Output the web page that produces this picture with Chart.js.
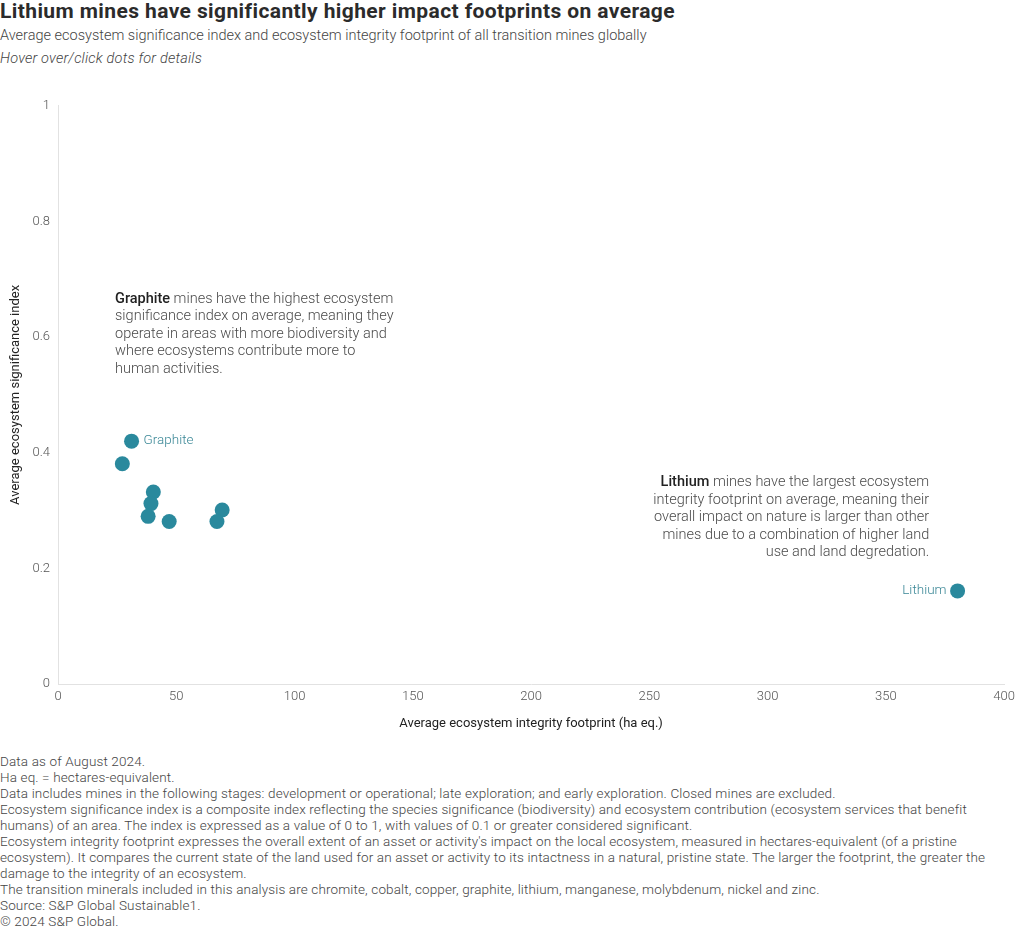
<!DOCTYPE html>
<html>
<head>
<meta charset="utf-8">
<script src="https://cdn.jsdelivr.net/npm/chart.js@4"></script>
<style>
  html, body { margin: 0; padding: 0; background: #fff; }
  body { width: 1020px; height: 929px; position: relative; overflow: hidden; font-family: Roboto, "Noto Sans", sans-serif; color: #333; }
  .t { position: absolute; left: 0; white-space: nowrap; }
  #title { top: -1px; font-size: 21px; font-weight: 700; color: #2b2b2b; line-height: 24px; letter-spacing: 0.4px; }
  #sub { top: 27px; font-size: 14.5px; font-weight: 300; color: #444; line-height: 18px; }
  #hint { top: 50px; font-size: 14.5px; font-weight: 300; font-style: italic; color: #444; line-height: 18px; letter-spacing: 0.2px; }
  #wrap { position: absolute; left: 0; top: 90px; width: 1020px; height: 650px; }
  #notes { position: absolute; left: 0; top: 753px; width: 1020px; white-space: nowrap; font-family: Roboto, sans-serif; font-size: 13.5px; letter-spacing: 0.14px; line-height: 16px; color: #444; font-weight: 300; }
</style>
</head>
<body>
<div id="title" class="t">Lithium mines have significantly higher impact footprints on average</div>
<div id="sub" class="t">Average ecosystem significance index and ecosystem integrity footprint of all transition mines globally</div>
<div id="hint" class="t">Hover over/click dots for details</div>
<div id="wrap"><canvas id="c" width="1020" height="650"></canvas></div>
<div id="notes">
Data as of August 2024.<br>
Ha eq. = hectares-equivalent.<br>
Data includes mines in the following stages: development or operational; late exploration; and early exploration. Closed mines are excluded.<br>
Ecosystem significance index is a composite index reflecting the species significance (biodiversity) and ecosystem contribution (ecosystem services that benefit<br>
humans) of an area. The index is expressed as a value of 0 to 1, with values of 0.1 or greater considered significant.<br>
Ecosystem integrity footprint expresses the overall extent of an asset or activity's impact on the local ecosystem, measured in hectares-equivalent (of a pristine<br>
ecosystem). It compares the current state of the land used for an asset or activity to its intactness in a natural, pristine state. The larger the footprint, the greater the<br>
damage to the integrity of an ecosystem.<br>
The transition minerals included in this analysis are chromite, cobalt, copper, graphite, lithium, manganese, molybdenum, nickel and zinc.<br>
Source: S&amp;P Global Sustainable1.<br>
© 2024 S&amp;P Global.
</div>
<script>
// ---- data ----
const minerals      = ['Graphite', 'Mineral B', 'Mineral C', 'Mineral D', 'Mineral E', 'Mineral F', 'Mineral G', 'Mineral H', 'Lithium'];
const footprint     = [31.1, 27.2, 40.3, 39.3, 38.1, 47.0, 69.4, 67.2, 380.3];
const significance  = [0.420, 0.381, 0.332, 0.312, 0.290, 0.281, 0.301, 0.281, 0.161];
const shownLabels   = ['Graphite', '', '', '', '', '', '', '', 'Lithium'];
const xTicks        = [0, 50, 100, 150, 200, 250, 300, 350, 400];
const yTicks        = [0, 0.2, 0.4, 0.6, 0.8, 1];
const xTitle = 'Average ecosystem integrity footprint (ha eq.)';
const yTitle = 'Average ecosystem significance index';
const graphiteNote = [['Graphite', ' mines have the highest ecosystem'], ['', 'significance index on average, meaning they'], ['', 'operate in areas with more biodiversity and'], ['', 'where ecosystems contribute more to'], ['', 'human activities.']];
const lithiumNote  = [['Lithium', ' mines have the largest ecosystem'], ['', 'integrity footprint on average, meaning their'], ['', 'overall impact on nature is larger than other'], ['', 'mines due to a combination of higher land'], ['', 'use and land degredation.']];

const teal = '#2a899d';
const FONT = 'Roboto, "Noto Sans", sans-serif';
const NOTE_SIZE = 14.5;

const points = footprint.map((x, i) => ({ x, y: significance[i] }));

function drawNote(ctx, lines, x, y, align, lh) {
  ctx.save();
  ctx.textBaseline = 'middle';
  lines.forEach(([b, r], i) => {
    const yy = y + i * lh;
    ctx.font = '500 ' + NOTE_SIZE + 'px ' + FONT;
    const bw = b ? ctx.measureText(b).width : 0;
    ctx.font = '300 ' + NOTE_SIZE + 'px ' + FONT;
    const rw = ctx.measureText(r).width;
    let left = align === 'left' ? x : x - bw - rw;
    ctx.textAlign = 'left';
    if (b) {
      ctx.font = '500 ' + NOTE_SIZE + 'px ' + FONT;
      ctx.fillStyle = '#222';
      ctx.fillText(b, left, yy);
    }
    ctx.font = '300 ' + NOTE_SIZE + 'px ' + FONT;
    ctx.fillStyle = '#4a4a4a';
    ctx.fillText(r, left + bw, yy);
  });
  ctx.restore();
}

const annotations = {
  id: 'annotations',
  afterDatasetsDraw(chart) {
    const { ctx, scales: { x, y } } = chart;
    const meta = chart.getDatasetMeta(0);
    ctx.save();
    ctx.font = '300 13.5px ' + FONT;
    ctx.fillStyle = '#3a8796';
    ctx.textBaseline = 'middle';
    meta.data.forEach((el, i) => {
      const lab = shownLabels[i];
      if (!lab) return;
      if (footprint[i] > 200) {
        ctx.textAlign = 'right';
        ctx.fillText(lab, el.x - 11, el.y);
      } else {
        ctx.textAlign = 'left';
        ctx.fillText(lab, el.x + 12, el.y - 1);
      }
    });
    ctx.restore();
    drawNote(ctx, graphiteNote, x.getPixelForValue(24.1), y.getPixelForValue(0.6655), 'left', 17.5);
    drawNote(ctx, lithiumNote, x.getPixelForValue(368.3), y.getPixelForValue(0.3485), 'right', 17.5);
  }
};

new Chart(document.getElementById('c'), {
  type: 'scatter',
  data: {
    labels: minerals,
    datasets: [{
      data: points,
      backgroundColor: teal,
      borderColor: teal,
      borderWidth: 0,
      pointRadius: 7.5,
      pointHoverRadius: 8.5
    }]
  },
  options: {
    responsive: false,
    animation: false,
    layout: { padding: { top: 14, right: 15, left: 8, bottom: 0 } },
    plugins: {
      legend: { display: false },
      tooltip: { callbacks: { label: c => minerals[c.dataIndex] + ': ' + c.parsed.x + ' ha eq., ' + c.parsed.y } }
    },
    scales: {
      x: {
        type: 'linear', min: 0, max: 400,
        afterBuildTicks: s => { s.ticks = xTicks.map(v => ({ value: v })); },
        afterFit: s => { s.height = 56; },
        grid: { display: false, drawTicks: false },
        border: { display: true, color: '#e2e2e2', width: 1 },
        ticks: { padding: 5, color: '#555', font: { family: FONT, size: 13, weight: 300 } },
        title: { display: true, text: xTitle, color: '#222', padding: { top: 1, bottom: 8 }, font: { family: FONT, size: 13, weight: 400 } }
      },
      y: {
        type: 'linear', min: 0, max: 1,
        afterBuildTicks: s => { s.ticks = yTicks.map(v => ({ value: v })); },
        afterFit: s => { s.width = 50; },
        grid: { display: false, drawTicks: false },
        border: { display: true, color: '#e2e2e2', width: 1 },
        ticks: { padding: 8, color: '#555', font: { family: FONT, size: 13, weight: 300 }, callback: v => String(v) },
        title: { display: true, text: yTitle, color: '#222', padding: { top: 0, bottom: 0 }, font: { family: FONT, size: 13, weight: 400 } }
      }
    }
  },
  plugins: [annotations]
});
</script>
</body>
</html>
